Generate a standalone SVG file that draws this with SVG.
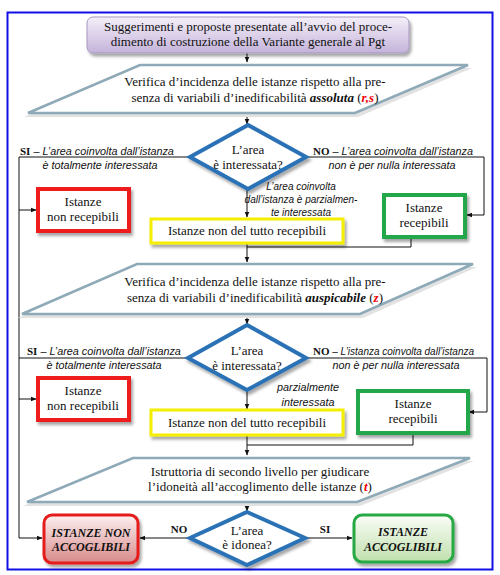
<svg xmlns="http://www.w3.org/2000/svg" width="500" height="575" viewBox="0 0 500 575">
<defs>
<style>
.t{font-family:"Liberation Serif","Times New Roman",serif;font-size:13px;fill:#111;text-anchor:middle}
.it{font-family:"Liberation Sans",Arial,sans-serif;font-size:10.8px;font-style:italic;fill:#111}
.it2{font-size:10px}
.b{font-weight:bold;font-style:normal;font-family:"Liberation Serif",serif;font-size:11px}
.ln{fill:none;stroke:#111;stroke-width:1}
.para{fill:#fff;stroke:#8eaab8;stroke-width:2.5;stroke-linejoin:miter}
.psh{fill:#e2e2e2}
.dia{fill:#fff;stroke:#2a72b5;stroke-width:4;stroke-linejoin:miter}
.red{fill:#fff;stroke:#ee1c1c;stroke-width:4}
.grn{fill:#fff;stroke:#22a84b;stroke-width:4}
.yel{fill:#fff;stroke:#f4ee00;stroke-width:3}
.bi{font-weight:bold;font-style:italic}
.sm{font-size:12px}
</style>
<filter id="sh" x="-10%" y="-10%" width="130%" height="140%">
<feDropShadow dx="2" dy="3" stdDeviation="1.5" flood-color="#000" flood-opacity="0.35"/>
</filter>
<linearGradient id="gp" x1="0" y1="0" x2="0" y2="1">
<stop offset="0" stop-color="#f4eff8"/><stop offset="1" stop-color="#c4b3da"/>
</linearGradient>
<linearGradient id="gr" x1="0" y1="0" x2="0" y2="1">
<stop offset="0" stop-color="#fdf0f0"/><stop offset="1" stop-color="#d88a8a"/>
</linearGradient>
<linearGradient id="gg" x1="0" y1="0" x2="0" y2="1">
<stop offset="0" stop-color="#fbfdf8"/><stop offset="1" stop-color="#bfe0ad"/>
</linearGradient>
<marker id="ar" viewBox="0 0 10 10" refX="9" refY="5" markerWidth="6" markerHeight="6" orient="auto" markerUnits="userSpaceOnUse">
<path d="M0,1 L10,5 L0,9 Z" fill="#111"/>
</marker>
</defs>
<rect x="0" y="0" width="500" height="575" fill="#fff"/>
<rect x="7.5" y="12.5" width="485" height="557" fill="none" stroke="#1010e6" stroke-width="2"/>

<g id="connectors">
<line class="ln" x1="247" y1="53" x2="247" y2="62" marker-end="url(#ar)"/>
<line class="ln" x1="247" y1="113" x2="247" y2="124" marker-end="url(#ar)"/>
<path class="ln" d="M190,157 H19 V538 H42" marker-end="url(#ar)"/>
<line class="ln" x1="19" y1="210" x2="36" y2="210" marker-end="url(#ar)"/>
<line class="ln" x1="19" y1="399" x2="36" y2="399" marker-end="url(#ar)"/>
<path class="ln" d="M307,157 H484 V215 H467" marker-end="url(#ar)"/>
<line class="ln" x1="247" y1="189" x2="247" y2="217" marker-end="url(#ar)"/>
<path class="ln" d="M411,237 V247 H247"/>
<line class="ln" x1="247" y1="243" x2="247" y2="262" marker-end="url(#ar)"/>
<line class="ln" x1="247" y1="314" x2="247" y2="324" marker-end="url(#ar)"/>
<path class="ln" d="M188,358 H19"/>
<path class="ln" d="M306,358 H487 V412 H469" marker-end="url(#ar)"/>
<line class="ln" x1="247" y1="390" x2="247" y2="409" marker-end="url(#ar)"/>
<path class="ln" d="M413,433 V445 H247"/>
<line class="ln" x1="247" y1="436" x2="247" y2="455" marker-end="url(#ar)"/>
<line class="ln" x1="247" y1="502" x2="247" y2="511" marker-end="url(#ar)"/>
<line class="ln" x1="190" y1="538" x2="140" y2="538" marker-end="url(#ar)"/>
<line class="ln" x1="305" y1="538" x2="352" y2="538" marker-end="url(#ar)"/>
</g>

<g id="labels">
<text class="it" x="20" y="155"><tspan class="b">SI</tspan> – L’area coinvolta dall’istanza</text>
<text class="it" x="100" y="169" text-anchor="middle">è totalmente interessata</text>
<text class="it" x="313" y="155"><tspan class="b">NO</tspan> – L’area coinvolta dall’istanza</text>
<text class="it" x="392" y="169" text-anchor="middle">non è per nulla interessata</text>
<text class="it it2" x="301" y="190" text-anchor="middle">L’area coinvolta</text>
<text class="it it2" x="301" y="203" text-anchor="middle">dall’istanza è parzialmen-</text>
<text class="it it2" x="301" y="216" text-anchor="middle">te interessata</text>
<text class="it" x="27" y="355"><tspan class="b">SI</tspan> – L’area coinvolta dall’istanza</text>
<text class="it" x="104" y="369" text-anchor="middle">è totalmente interessata</text>
<text class="it it2" x="313" y="355"><tspan class="b">NO</tspan> – L’istanza coinvolta dall’istanza</text>
<text class="it" x="396" y="369" text-anchor="middle">non è per nulla interessata</text>
<text class="it" x="308" y="391" text-anchor="middle">parzialmente</text>
<text class="it" x="308" y="406" text-anchor="middle">interessata</text>
<text class="t b" x="179" y="533">NO</text>
<text class="t b" x="325" y="533">SI</text>
</g>

<g id="start">
<rect x="87" y="17" width="322" height="36" rx="6" fill="url(#gp)" stroke="#a597bd" stroke-width="1" filter="url(#sh)"/>
<text class="t" x="248" y="31">Suggerimenti e proposte presentate all’avvio del proce-</text>
<text class="t" x="248" y="46">dimento di costruzione della Variante generale al Pgt</text>
</g>

<g id="verifica1">
<polygon class="psh" points="136,68 472,68 358,117 24,117"/>
<polygon class="para" points="140,65 468,65 355,113 28,113"/>
<text class="t" x="255" y="86">Verifica d’incidenza delle istanze rispetto alla pre-</text>
<text class="t" x="255" y="102">senza di variabili d’inedificabilità <tspan class="bi">assoluta</tspan> (<tspan class="bi" fill="#e00">r,s</tspan>)</text>
</g>

<g id="dec1">
<polygon class="dia" points="248,125 306,157 248,189 190,157" filter="url(#sh)"/>
<text class="t" x="248" y="154">L’area</text>
<text class="t" x="248" y="169">è interessata?</text>
</g>

<g id="nonrec1">
<rect x="38" y="189" width="91" height="42" class="red" filter="url(#sh)"/>
<text class="t" x="83" y="206">Istanze</text>
<text class="t" x="83" y="221">non recepibili</text>
</g>

<g id="parz1">
<rect x="151" y="219" width="192" height="24" class="yel" filter="url(#sh)"/>
<text class="t" x="247" y="235">Istanze non del tutto recepibili</text>
</g>

<g id="rec1">
<rect x="384" y="195" width="81" height="42" class="grn" filter="url(#sh)"/>
<text class="t" x="424" y="212">Istanze</text>
<text class="t" x="424" y="227">recepibili</text>
</g>

<g id="verifica2">
<polygon class="psh" points="133,267 477,267 363,318 18,318"/>
<polygon class="para" points="137,264 473,264 360,314 22,314"/>
<text class="t" x="255" y="286">Verifica d’incidenza delle istanze rispetto alla pre-</text>
<text class="t" x="255" y="302">senza di variabili d’inedificabilità <tspan class="bi">auspicabile</tspan> (<tspan class="bi" fill="#e00">z</tspan>)</text>
</g>

<g id="dec2">
<polygon class="dia" points="247,325 306,358 247,390 188,358" filter="url(#sh)"/>
<text class="t" x="247" y="355">L’area</text>
<text class="t" x="247" y="370">è interessata?</text>
</g>

<g id="nonrec2">
<rect x="38" y="378" width="91" height="42" class="red" filter="url(#sh)"/>
<text class="t" x="83" y="395">Istanze</text>
<text class="t" x="83" y="410">non recepibili</text>
</g>

<g id="parz2">
<rect x="151" y="410" width="192" height="25" class="yel" filter="url(#sh)"/>
<text class="t" x="247" y="427">Istanze non del tutto recepibili</text>
</g>

<g id="rec2">
<rect x="358" y="391" width="110" height="42" class="grn" filter="url(#sh)"/>
<text class="t" x="413" y="408">Istanze</text>
<text class="t" x="413" y="423">recepibili</text>
</g>

<g id="istruttoria">
<polygon class="psh" points="129,461 474,461 360,506 23,506"/>
<polygon class="para" points="133,458 470,458 357,502 27,502"/>
<text class="t" x="260" y="476">Istruttoria di secondo livello per giudicare</text>
<text class="t" x="260" y="491">l’idoneità all’accoglimento delle istanze (<tspan class="bi" fill="#e00">t</tspan>)</text>
</g>

<g id="dec3">
<polygon class="dia" points="247,512 305,538 247,565 190,538" filter="url(#sh)"/>
<text class="t" x="247" y="535">L’area</text>
<text class="t" x="247" y="549">è idonea?</text>
</g>

<g id="nonacc">
<rect x="44" y="515" width="94" height="48" rx="8" fill="url(#gr)" stroke="#e51c1c" stroke-width="3" filter="url(#sh)"/>
<text class="t bi sm" x="91" y="537">ISTANZE NON</text>
<text class="t bi sm" x="91" y="551">ACCOGLIBILI</text>
</g>

<g id="acc">
<rect x="354" y="515" width="99" height="47" rx="8" fill="url(#gg)" stroke="#27a843" stroke-width="3" filter="url(#sh)"/>
<text class="t bi sm" x="403" y="536">ISTANZE</text>
<text class="t bi sm" x="403" y="551">ACCOGLIBILI</text>
</g>
</svg>
